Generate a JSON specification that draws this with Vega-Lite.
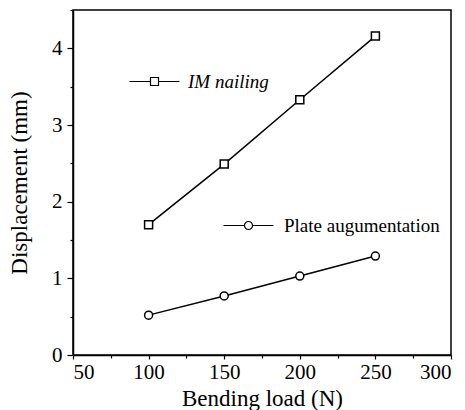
{
  "$schema": "https://vega.github.io/schema/vega-lite/v6.json",
  "width": 378,
  "height": 345,
  "autosize": "none",
  "padding": {"left": 73, "top": 10, "right": 14, "bottom": 55},
  "background": "white",
  "config": {
    "font": "Liberation Serif",
    "view": {"stroke": "black", "strokeWidth": 1.5},
    "axis": {
      "domainColor": "black", "domainWidth": 1.5, "tickColor": "black", "tickWidth": 1.2,
      "labelColor": "black", "titleColor": "black", "labelFont": "Liberation Serif",
      "titleFont": "Liberation Serif", "labelFontSize": 21, "titleFontSize": 23,
      "titleFontWeight": "normal", "grid": false, "labelOverlap": false
    },
    "legend": {"padding": 0, "labelFont": "Liberation Serif", "labelColor": "black", "labelFontSize": 19, "title": null}
  },
  "data": {
    "values": [
      {"load": 100, "disp": 1.70, "series": "IM nailing"},
      {"load": 150, "disp": 2.49, "series": "IM nailing"},
      {"load": 200, "disp": 3.33, "series": "IM nailing"},
      {"load": 250, "disp": 4.16, "series": "IM nailing"},
      {"load": 100, "disp": 0.52, "series": "Plate augumentation"},
      {"load": 150, "disp": 0.77, "series": "Plate augumentation"},
      {"load": 200, "disp": 1.03, "series": "Plate augumentation"},
      {"load": 250, "disp": 1.29, "series": "Plate augumentation"}
    ]
  },
  "encoding": {
    "x": {"field": "load", "type": "quantitative", "title": "Bending load (N)",
      "scale": {"domain": [50, 300], "nice": false},
      "axis": {"values": [50, 75, 100, 125, 150, 175, 200, 225, 250, 275, 300],
        "labelExpr": "datum.value % 50 === 0 ? format(datum.value, 'd') : ''",
        "tickSize": {"condition": {"test": "datum.value % 50 === 0", "value": 4}, "value": 3},
        "labelPadding": 2, "titlePadding": 5}},
    "y": {"field": "disp", "type": "quantitative", "title": "Displacement (mm)",
      "scale": {"domain": [0, 4.5], "nice": false},
      "axis": {"values": [0, 0.5, 1, 1.5, 2, 2.5, 3, 3.5, 4, 4.5],
        "labelExpr": "datum.value % 1 === 0 ? format(datum.value, 'd') : ''",
        "tickSize": {"condition": {"test": "datum.value % 1 === 0", "value": 6}, "value": 3},
        "labelPadding": 5, "titlePadding": 20}}
  },
  "layer": [
    {
      "transform": [{"filter": "datum.series === 'IM nailing'"}],
      "mark": {"type": "line", "strokeWidth": 1.5},
      "encoding": {
        "color": {"field": "series", "type": "nominal", "scale": {"range": ["black"]},
          "legend": {"orient": "none", "legendX": 72, "legendY": 62, "symbolType": "M-6.25,0H-1M1,0H6.25M-1,-1H1V1H-1Z",
            "symbolSize": 64, "symbolFillColor": "white", "symbolStrokeColor": "black", "symbolStrokeWidth": 1.2,
            "labelOffset": 24, "labelFontStyle": "italic"}}
      }
    },
    {
      "transform": [{"filter": "datum.series === 'IM nailing'"}],
      "mark": {"type": "point", "shape": "square", "size": 64, "filled": true, "fill": "white", "stroke": "black", "strokeWidth": 1.5, "opacity": 1}
    },
    {
      "transform": [{"filter": "datum.series === 'Plate augumentation'"}],
      "mark": {"type": "line", "strokeWidth": 1.5},
      "encoding": {
        "color": {"field": "series", "type": "nominal", "scale": {"range": ["black"]},
          "legend": {"orient": "none", "legendX": 166, "legendY": 206, "symbolType": "M-6.25,0H-1M1,0A1,1 0 1,0 -1,0A1,1 0 1,0 1,0M1,0H6.25",
            "symbolSize": 64, "symbolFillColor": "white", "symbolStrokeColor": "black", "symbolStrokeWidth": 1.2,
            "labelOffset": 26}}
      }
    },
    {
      "transform": [{"filter": "datum.series === 'Plate augumentation'"}],
      "mark": {"type": "point", "shape": "circle", "size": 64, "filled": true, "fill": "white", "stroke": "black", "strokeWidth": 1.5, "opacity": 1}
    }
  ],
  "resolve": {"scale": {"color": "independent"}, "legend": {"color": "independent"}}
}
